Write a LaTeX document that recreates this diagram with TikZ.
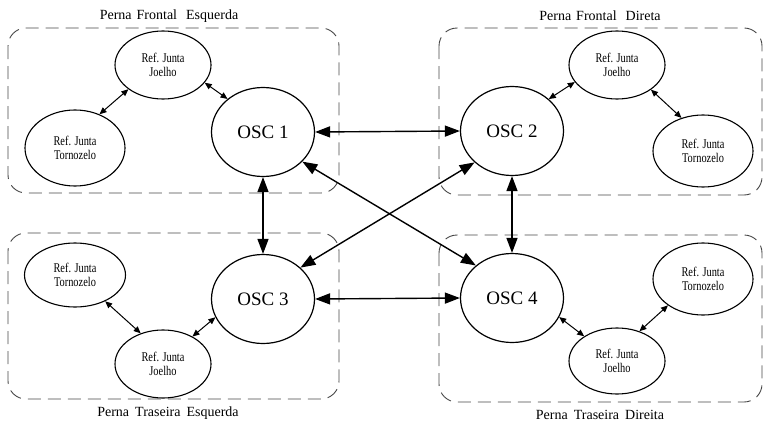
\documentclass[tikz,border=0pt]{standalone}
\usepackage{fontspec}
\setmainfont{Liberation Serif}
\newfontfamily\narrowserif[FakeStretch=0.78]{Liberation Serif}
\usetikzlibrary{shapes.geometric,arrows.meta}

\begin{document}
\begin{tikzpicture}[x=1pt,y=-1pt,
  legbox/.style={draw=black!72, line width=0.9pt, dash pattern=on 13pt off 7pt,
                 rounded corners=18pt},
  legtitle/.style={font=\fontsize{14}{16}\selectfont, inner sep=0pt},
  refnode/.style={ellipse, draw, line width=1.1pt, inner sep=0pt,
                  minimum width=96pt, minimum height=68pt, align=center,
                  font=\narrowserif\fontsize{13.3}{14.5}\selectfont},
  oscnode/.style={ellipse, draw, line width=1.2pt, inner sep=0pt,
                  minimum width=103pt, minimum height=89pt,
                  font=\fontsize{19}{20}\selectfont},
  bigarrow/.style={line width=1.4pt, {Triangle[length=15pt,width=11pt]}-{Triangle[length=15pt,width=11pt]}},
  smallarrow/.style={line width=1pt, {Triangle[length=7pt,width=6pt]}-{Triangle[length=7pt,width=6pt]}}
]
\useasboundingbox (0,0) rectangle (765,423);

% leg groups
\draw[legbox] (8,28) rectangle (339,193);
\draw[legbox] (439,28) rectangle (762,195);
\draw[legbox] (8,233) rectangle (339,399);
\draw[legbox] (439,235) rectangle (762,402);

\node[legtitle] (t1) at (169,16) {Perna\hspace{5pt}Frontal\hspace{9pt}Esquerda};
\node[legtitle] (t2) at (600,16) {Perna\hspace{5pt}Frontal\hspace{9pt}Direta};
\node[legtitle] (t3) at (168,413) {Perna\hspace{6pt}Traseira\hspace{6pt}Esquerda};
\node[legtitle] (t4) at (600,415) {Perna\hspace{6pt}Traseira\hspace{6pt}Direita};

% oscillators
\node[oscnode] (o1) at (263,132) {OSC 1};
\node[oscnode] (o2) at (512,131) {OSC 2};
\node[oscnode] (o3) at (263,299) {OSC 3};
\node[oscnode] (o4) at (512,298) {OSC 4};

% joint references
\node[refnode] (j1) at (163,65) {Ref. Junta\\Joelho};
\node[refnode, minimum width=100pt, minimum height=76pt] (a1) at (75,148) {Ref. Junta\\Tornozelo};
\node[refnode] (j2) at (617,65) {Ref. Junta\\Joelho};
\node[refnode, minimum width=100pt, minimum height=72pt] (a2) at (703,151) {Ref. Junta\\Tornozelo};
\node[refnode, minimum height=64pt, minimum width=101pt] (a3) at (75,275) {Ref. Junta\\Tornozelo};
\node[refnode] (j3) at (163,364) {Ref. Junta\\Joelho};
\node[refnode, minimum height=72pt, minimum width=100pt] (a4) at (703,279) {Ref. Junta\\Tornozelo};
\node[refnode, minimum height=66pt] (j4) at (617,361) {Ref. Junta\\Joelho};

% oscillator couplings
\draw[bigarrow] (o1.east) -- (o2.west);
\draw[bigarrow] (o3.east) -- (o4.west);
\draw[bigarrow] (o1.south) -- (o3.north);
\draw[bigarrow] (o2.south) -- (o4.north);
\draw[bigarrow] (o1.-37) -- (o4.138);
\draw[bigarrow] (o2.220) -- (o3.40);

% joint links
\draw[smallarrow] (a1.54) -- (j1.215);
\draw[smallarrow] (j1.-23) -- (o1.137);
\draw[smallarrow] (o2.41) -- (j2.202);
\draw[smallarrow] (j2.-36) -- (a2.123);
\draw[smallarrow] (a3.-41) -- (j3.126);
\draw[smallarrow] (j3.43) -- (o3.201);
\draw[smallarrow] (o4.-22) -- (j4.143);
\draw[smallarrow] (j4.53) -- (a4.217);
\end{tikzpicture}
\end{document}
